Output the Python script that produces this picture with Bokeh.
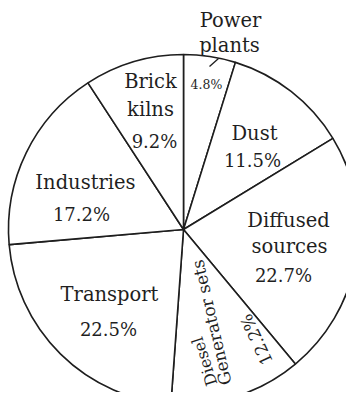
import math
from bokeh.plotting import figure
from bokeh.models import ColumnDataSource, Range1d
from bokeh.core.properties import value
from bokeh.embed import file_html
from bokeh.resources import INLINE

# ---- data ----
sources = ["Power plants", "Dust", "Diffused sources", "Diesel Generator sets",
           "Transport", "Industries", "Brick kilns"]
shares = [4.8, 11.5, 22.7, 12.2, 22.5, 17.2, 9.2]

# ---- layout (page pixels; y measured from top) ----
W, H = 346, 392
CX, CY, R = 191, 237, 175
FONT = "DejaVu Serif"
TXT = "#1f1f1f"
LINE = "#1e1e1e"

def Y(ypix):
    return 408 - ypix

total = sum(shares)
starts, ends = [], []
cum = 0.0
for s in shares:
    starts.append(math.pi / 2 - 2 * math.pi * cum / total)
    cum += s
    ends.append(math.pi / 2 - 2 * math.pi * cum / total)

src = ColumnDataSource(dict(name=sources, share=shares, start=starts, end=ends))

p = figure(width=W, height=H, x_range=Range1d(8, 8 + W), y_range=Range1d(408 - 8 - H, 400),
           x_axis_type=None, y_axis_type=None, toolbar_location=None,
           output_backend="svg", min_border=0)
p.outline_line_color = None
p.background_fill_color = "white"
p.border_fill_color = "white"
p.grid.visible = False

p.wedge(x=CX, y=Y(CY), radius=R, start_angle="start", end_angle="end",
        direction="clock", source=src, fill_color="white",
        line_color=LINE, line_width=1.6)

def pct(i):
    return f"{shares[i]}%"

WORD, NUM = 19.5, 18
horiz = [
    ("Power", 238, 28, WORD), ("plants", 237, 53, WORD),
    (pct(0), 214, 92, 12.5),
    ("Brick", 158, 89, WORD), ("kilns", 158, 117, WORD), (pct(6), 162, 149, NUM),
    ("Dust", 262, 141, WORD), (pct(1), 260, 168, NUM),
    ("Industries", 93, 190, WORD), (pct(5), 89, 222, NUM),
    ("Diffused", 296, 228, WORD), ("sources", 297, 254, WORD), (pct(2), 291, 283, NUM),
    ("Transport", 117, 302, WORD), (pct(4), 116, 337, NUM),
]
for t, x, y, fs in horiz:
    p.text(x=[x], y=[Y(y)], text=[t], text_font=value(FONT),
           text_font_size=f"{fs}px", text_color=TXT,
           text_align="center", text_baseline="middle")

rot = [
    ("Diesel", 212, 369, 108, 16),
    ("Generator sets", 219, 330, 103, 17),
    (pct(3), 264, 347, 115, 17),
]
for t, x, y, a, fs in rot:
    p.text(x=[x], y=[Y(y)], text=[t], angle=[math.radians(a)],
           text_font=value(FONT), text_font_size=f"{fs}px", text_color=TXT,
           text_align="center", text_baseline="middle")

# leader line for Power plants
p.segment(x0=[217], y0=[Y(74)], x1=[226], y1=[Y(66)], line_color=LINE, line_width=1.4)

open("out.html", "w").write(file_html(p, INLINE))
